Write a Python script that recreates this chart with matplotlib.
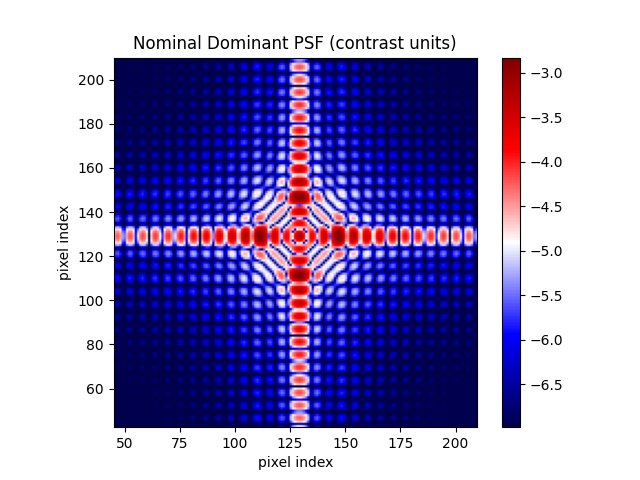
import numpy as np
import matplotlib.pyplot as plt

npix = 256
pupil_width = 48
lyot_width = 46
mask_radius = 3.0          # in lambda/D of the entrance pupil
mask_softness = 0.3        # edge width of the focal mask, lambda/D
center_offset = 0.9        # star sits at pixel 128.9 in the picture

# display window and colour range
x_limits = (45.0, 209.6)
y_limits = (42.5, 210.0)
c_min, c_max = -6.98, -2.83


def square(n, width):
    yy, xx = np.indices((n, n)) - n // 2
    return ((np.abs(xx) < width / 2) & (np.abs(yy) < width / 2)).astype(float)


def ft(a):
    return np.fft.fftshift(np.fft.fft2(np.fft.ifftshift(a)))


def ift(a):
    return np.fft.fftshift(np.fft.ifft2(np.fft.ifftshift(a)))


pupil = square(npix, pupil_width)
lyot = square(npix, lyot_width)

yy, xx = np.indices((npix, npix)) - npix // 2
rr = np.hypot(xx, yy)
lam_d = npix / pupil_width
focal_mask = 0.5 * (1 + np.tanh((rr - mask_radius * lam_d) / (mask_softness * lam_d)))

e_final = ft(ift(ft(pupil) * focal_mask) * lyot)
log_psf = np.log10(np.abs(e_final) ** 2 + 1e-20)

# contrast scaling: brightest pixel in the window sits at the top of the bar
window = log_psf[42:211, 45:211]
log_psf = log_psf - window.max() + c_max

ext = (center_offset - 0.5, npix - 0.5 + center_offset,
       center_offset - 0.5, npix - 0.5 + center_offset)

fig, ax = plt.subplots()
im = ax.imshow(log_psf, origin="lower", cmap="seismic",
               vmin=c_min, vmax=c_max, extent=ext)
ax.set_xlim(*x_limits)
ax.set_ylim(*y_limits)
ax.set_xlabel("pixel index")
ax.set_ylabel("pixel index")
ax.set_title("Nominal Dominant PSF (contrast units)")
plt.colorbar(im)
plt.savefig("out.png", dpi=100)
